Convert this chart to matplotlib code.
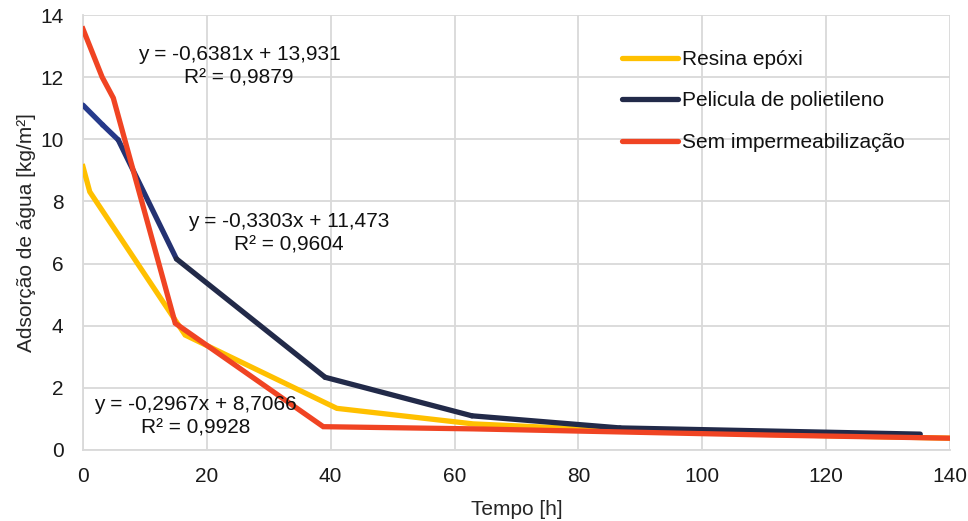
import matplotlib
matplotlib.use("Agg")
import matplotlib.pyplot as plt
from matplotlib.collections import LineCollection
import numpy as np

plt.rcParams['font.family'] = ['Liberation Sans', 'DejaVu Sans']

# dados
t_resina = [0, 1.1, 16.5, 41, 63, 87, 111, 140]
y_resina = [9.12, 8.31, 3.7, 1.34, 0.84, 0.62, 0.5, 0.38]

t_pelicula = [0, 3.2, 5.7, 15.1, 39.1, 62.8, 86.7, 135.2]
y_pelicula = [11.1, 10.46, 9.98, 6.15, 2.34, 1.1, 0.71, 0.51]

t_sem = [0, 1.1, 1.9, 3.1, 4.9, 14.9, 38.8, 63, 87, 111, 140]
y_sem = [13.55, 13.0, 12.6, 12.0, 11.33, 4.08, 0.75, 0.68, 0.58, 0.48, 0.38]

nomes = ['Resina epóxi', 'Pelicula de polietileno', 'Sem impermeabilização']
cores = ['#ffc000', '#222a49', '#f04423']
# cor de cada segmento da pelicula (degrade do excel)
cores_pelicula = ['#263b8c', '#26388a', '#243272', '#222a49', '#222a49', '#222a49', '#222a49']

equacoes = ['y = -0,6381x + 13,931\nR² = 0,9879',
            'y = -0,3303x + 11,473\nR² = 0,9604',
            'y = -0,2967x + 8,7066\nR² = 0,9928']
pos_eq = [(25.2, 12.36), (33.2, 6.97), (18.2, 1.1)]

fs = 15
fig = plt.figure(figsize=(9.68, 5.21), dpi=100)
ax = fig.add_axes([0.0857, 0.1363, 0.8957, 0.8349])

lw = 3.8
ax.plot(t_resina, y_resina, color=cores[0], lw=lw, solid_joinstyle='miter', zorder=3)
pts = np.column_stack([t_pelicula, y_pelicula])
segs = [pts[i:i + 2] for i in range(len(pts) - 1)]
lc = LineCollection(segs, colors=cores_pelicula, linewidths=lw, capstyle='round', joinstyle='round', zorder=4)
ax.add_collection(lc)
ax.plot(t_sem, y_sem, color=cores[2], lw=lw, solid_joinstyle='miter', zorder=5)

for txt, (xx, yy) in zip(equacoes, pos_eq):
    ax.text(xx, yy, txt, ha='center', va='center', fontsize=fs, color='#111111',
            linespacing=1.3, zorder=6)

handles = [plt.Line2D([], [], color=c, lw=lw, solid_capstyle='round') for c in cores]
leg = ax.legend(handles, nomes, loc='upper left', bbox_to_anchor=(0.612, 0.939), frameon=False,
                fontsize=fs, handlelength=2.7, handletextpad=0.2, labelspacing=1.08,
                borderaxespad=0)
for t in leg.get_texts():
    t.set_color('#111111')

ax.set_xlim(0, 140)
ax.set_ylim(0, 14)
ax.set_xticks(np.arange(0, 141, 20))
ax.set_yticks(np.arange(0, 15, 2))
ax.grid(True, color='#d9d9d9', lw=1.3)
ax.set_axisbelow(True)
for s in ['top', 'right']:
    ax.spines[s].set_visible(False)
for s in ['left', 'bottom']:
    ax.spines[s].set_color('#d9d9d9')
    ax.spines[s].set_linewidth(1.3)
ax.tick_params(length=0, labelsize=fs, colors='#1a1a1a')
ax.tick_params(axis='y', pad=14)
ax.tick_params(axis='x', pad=12)
ax.set_xlabel('Tempo [h]', fontsize=fs, color='#262626', labelpad=10)
ax.set_ylabel('Adsorção de água [kg/m²]', fontsize=fs, color='#262626', labelpad=3)

fig.savefig('out.png', dpi=100)
